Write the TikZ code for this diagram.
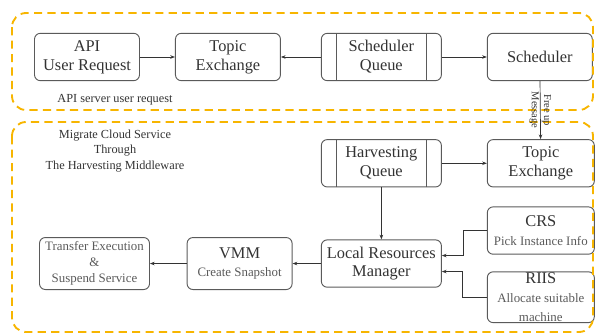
\documentclass[tikz,border=0pt]{standalone}
\usepackage{fontspec}
\setmainfont{Liberation Serif}
\usetikzlibrary{positioning,arrows.meta}

\definecolor{frameorange}{HTML}{F7B500}
\definecolor{boxgray}{HTML}{5A5A5A}
\definecolor{textgray}{HTML}{333333}

\newcommand{\subtxt}[1]{{\fontsize{11}{13}\selectfont\color{boxgray}#1}}

\tikzset{
  box/.style={draw=boxgray, line width=0.8pt, rounded corners=5pt,
    minimum width=3.15cm, minimum height=1.42cm, align=center,
    text=textgray, font=\rmfamily\fontsize{14}{16}\selectfont, inner sep=1pt},
  queue/.style={box, minimum width=3.6cm,
    path picture={
      \draw[boxgray, line width=0.8pt]
        ([xshift=0.45cm]path picture bounding box.north west) -- ([xshift=0.45cm]path picture bounding box.south west)
        ([xshift=-0.45cm]path picture bounding box.north east) -- ([xshift=-0.45cm]path picture bounding box.south east);
    }},
  conn/.style={draw=textgray, line width=0.6pt, -{Stealth[length=4pt,width=3pt]}},
  frame/.style={draw=frameorange, line width=1.6pt, dash pattern=on 7pt off 4.5pt, rounded corners=12pt},
  note/.style={align=center, text=textgray, font=\rmfamily\fontsize{10.5}{13}\selectfont}
}

\begin{document}
\begin{tikzpicture}
    \useasboundingbox (0,0) rectangle (18,-10.02);

    % upper part: API server
    \node[box] (api) at (2.61,-1.71) {API\\User Request};
    \node[box, right=1.05cm of api] (topicup) {Topic\\Exchange};
    \node[queue, right=1.2cm of topicup] (schedq) {Scheduler\\Queue};
    \node[box, right=1.35cm of schedq] (sched) {Scheduler};

    % lower part: harvesting middleware
    \node[queue, below=1.74cm of schedq] (harvq) {Harvesting\\Queue};
    \node[box, minimum width=3.21cm, right=1.35cm of harvq] (topicdown) {Topic\\Exchange};
    \node[box, minimum width=3.21cm, below=0.57cm of topicdown] (crs) {CRS\\\subtxt{Pick Instance Info}};
    \node[box, minimum width=3.21cm, minimum height=1.45cm, below=0.5cm of crs] (riis) {RIIS\\\subtxt{Allocate suitable}\\\subtxt{machine}};
    \node[box, minimum width=3.6cm, below=1.56cm of harvq] (lrm) {Local Resources\\Manager};
    \node[box, minimum height=1.56cm, left=0.85cm of lrm] (vmm) {VMM\\\subtxt{Create Snapshot}};
    \node[box, minimum width=3.3cm, minimum height=1.56cm, left=1.1cm of vmm, font=\rmfamily\fontsize{11}{13.5}\selectfont, text=boxgray] (transfer) {Transfer Execution\\\&\\Suspend Service};

    % frames
    \draw[frame] (0.36,-0.39) rectangle (17.79,-3.3);
    \draw[frame] (0.36,-3.66) rectangle (17.79,-9.96);
    \node[note] (apilabel) at (3.45,-3.0) {API server user request};
    \node[note] (migrate) at (3.45,-4.53) {Migrate Cloud Service\\Through\\The Harvesting Middleware};

    % connectors
    \draw[conn] (api) -- (topicup);
    \draw[conn] (schedq) -- (topicup);
    \draw[conn] (schedq) -- (sched);
    \draw[conn] (sched) -- node[rotate=-90, align=center, text=textgray, font=\rmfamily\fontsize{9}{10.5}\selectfont] (freeup) {Free up\\Message} (topicdown);
    \draw[conn] (harvq) -- (topicdown);
    \draw[conn] (harvq) -- (lrm);
    \draw[conn] (crs.west) -- ++(-0.7,0) |- ([yshift=0.24cm]lrm.east);
    \draw[conn] (riis.west) -- ++(-0.72,0) |- ([yshift=-0.24cm]lrm.east);
    \draw[conn] (lrm) -- (vmm);
    \draw[conn] (vmm) -- (transfer);
\end{tikzpicture}
\end{document}
